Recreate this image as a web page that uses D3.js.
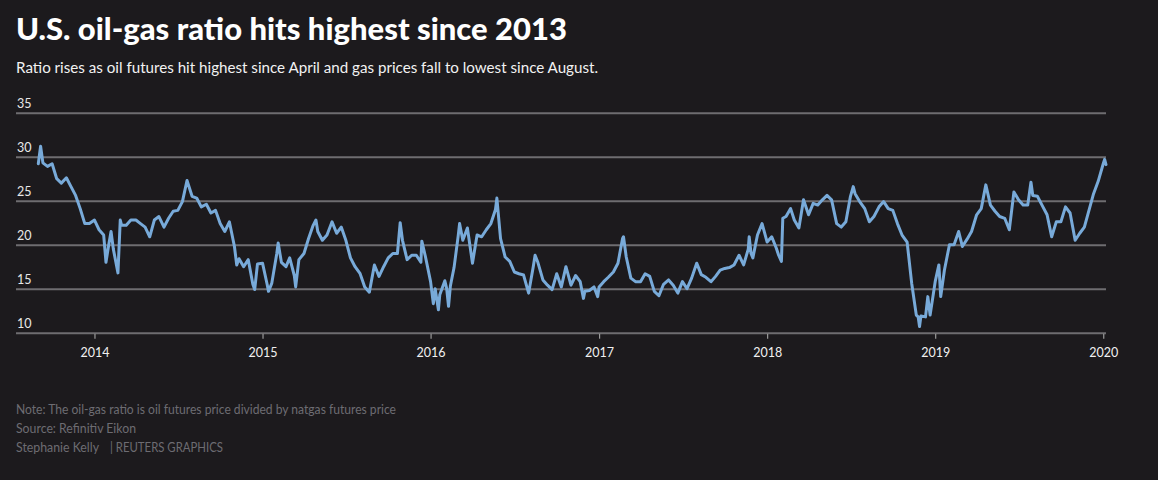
<!DOCTYPE html>
<html>
<head>
<meta charset="utf-8">
<script src="https://cdn.jsdelivr.net/npm/d3@7"></script>
<style>
  html, body { margin: 0; padding: 0; background: #1c1a1d; }
  svg { display: block; }
</style>
</head>
<body>
<svg id="chart" width="1158" height="480"></svg>
<script>
const titleText = "U.S. oil-gas ratio hits highest since 2013";
const subtitleText = "Ratio rises as oil futures hit highest since April and gas prices fall to lowest since August.";
const noteText = "Note: The oil-gas ratio is oil futures price divided by natgas futures price";
const sourceText = "Source: Refinitiv Eikon";
const bylineText = "Stephanie Kelly";
const creditText = "| REUTERS GRAPHICS";

const yTicks = [10, 15, 20, 25, 30, 35];
const xTickYears = ["2014", "2015", "2016", "2017", "2018", "2019", "2020"];

const dates = [
"2013-09-01","2013-09-06","2013-09-11","2013-09-21","2013-10-01","2013-10-11","2013-10-21",
"2013-11-01","2013-11-11","2013-11-21","2013-12-01","2013-12-11","2013-12-21",
"2014-01-01","2014-01-11","2014-01-21","2014-01-26","2014-02-01","2014-02-06","2014-02-11","2014-02-21","2014-02-26",
"2014-03-01","2014-03-11","2014-03-21","2014-04-01","2014-04-11","2014-04-21","2014-05-01","2014-05-11","2014-05-21",
"2014-06-01","2014-06-11","2014-06-21","2014-07-01","2014-07-11","2014-07-21","2014-08-01","2014-08-11","2014-08-21",
"2014-09-01","2014-09-11","2014-09-21","2014-10-01","2014-10-11","2014-10-21","2014-11-01","2014-11-06","2014-11-11","2014-11-21",
"2014-12-01","2014-12-11","2014-12-15","2014-12-21",
"2015-01-01","2015-01-11","2015-01-14","2015-01-21","2015-02-01","2015-02-04","2015-02-11","2015-02-21",
"2015-03-01","2015-03-11","2015-03-14","2015-03-21","2015-04-01","2015-04-11","2015-04-21","2015-04-27",
"2015-05-01","2015-05-11","2015-05-21","2015-06-01","2015-06-11","2015-06-21","2015-07-01","2015-07-11","2015-07-21",
"2015-08-01","2015-08-11","2015-08-21","2015-09-01","2015-09-11","2015-09-21","2015-10-01","2015-10-11","2015-10-21","2015-10-27",
"2015-11-01","2015-11-11","2015-11-21","2015-12-01","2015-12-11","2015-12-13","2015-12-21",
"2016-01-01","2016-01-07","2016-01-11","2016-01-18","2016-01-21","2016-02-01","2016-02-05","2016-02-09","2016-02-13","2016-02-21",
"2016-03-01","2016-03-04","2016-03-11","2016-03-21","2016-04-01","2016-04-11","2016-04-21","2016-05-01","2016-05-11","2016-05-21","2016-05-24",
"2016-06-01","2016-06-11","2016-06-21","2016-07-01","2016-07-11","2016-07-21","2016-08-01","2016-08-11","2016-08-15","2016-08-21",
"2016-09-01","2016-09-11","2016-09-21","2016-10-01","2016-10-11","2016-10-21","2016-11-01","2016-11-11","2016-11-21","2016-11-28",
"2016-12-01","2016-12-11","2016-12-21","2016-12-29",
"2017-01-01","2017-01-11","2017-01-21","2017-02-01","2017-02-11","2017-02-21","2017-02-23","2017-03-01","2017-03-11","2017-03-21",
"2017-04-01","2017-04-11","2017-04-21","2017-05-01","2017-05-11","2017-05-21","2017-06-01","2017-06-11","2017-06-21",
"2017-07-01","2017-07-11","2017-07-21","2017-08-01","2017-08-11","2017-08-21","2017-09-01","2017-09-11","2017-09-21",
"2017-10-01","2017-10-11","2017-10-21","2017-11-01","2017-11-11","2017-11-21","2017-11-23","2017-11-27","2017-12-01","2017-12-11","2017-12-21",
"2018-01-01","2018-01-11","2018-01-21","2018-01-26","2018-02-01","2018-02-04","2018-02-11","2018-02-21",
"2018-03-01","2018-03-11","2018-03-21","2018-04-01","2018-04-11","2018-04-21","2018-05-01","2018-05-11","2018-05-21",
"2018-06-01","2018-06-11","2018-06-21","2018-07-01","2018-07-07","2018-07-11","2018-07-21","2018-08-01","2018-08-11","2018-08-21",
"2018-09-01","2018-09-11","2018-09-21","2018-10-01","2018-10-11","2018-10-21","2018-11-01","2018-11-11","2018-11-21","2018-11-25","2018-11-28",
"2018-12-01","2018-12-11","2018-12-16","2018-12-21",
"2019-01-01","2019-01-09","2019-01-13","2019-01-21","2019-02-01","2019-02-11","2019-02-21","2019-03-01","2019-03-11","2019-03-21",
"2019-04-01","2019-04-11","2019-04-21","2019-05-01","2019-05-11","2019-05-21","2019-06-01","2019-06-11","2019-06-21",
"2019-07-01","2019-07-11","2019-07-21","2019-07-28","2019-08-01","2019-08-11","2019-08-21","2019-09-01","2019-09-11","2019-09-21",
"2019-10-01","2019-10-11","2019-10-21","2019-11-01","2019-11-11","2019-11-21","2019-12-01","2019-12-11","2019-12-21",
"2020-01-01","2020-01-04","2020-01-07"
];

const ratio = [
29.2,31.2,29.3,28.9,29.2,27.5,27.0,
27.6,26.6,25.6,24.1,22.4,22.4,
22.8,21.7,21.1,18.0,20.0,21.5,19.5,16.8,22.8,
22.2,22.2,22.8,22.8,22.4,22.0,20.9,22.8,23.2,
22.0,23.0,23.8,23.9,24.9,27.3,25.5,25.3,24.3,
24.6,23.6,23.9,22.4,21.5,22.6,19.8,17.7,18.4,17.5,
18.3,15.5,14.9,17.8,
17.9,15.5,14.7,15.6,19.0,20.2,18.0,17.5,
18.5,16.5,15.2,18.3,19.0,20.7,22.2,22.8,
21.5,20.5,21.1,22.6,21.3,22.0,20.5,18.5,17.5,
16.7,15.2,14.6,17.7,16.4,17.5,18.5,19.0,19.0,22.5,
20.5,18.3,18.8,18.8,18.0,20.4,18.6,
15.8,13.3,15.0,12.6,14.3,15.9,15.0,13.0,15.3,17.4,
21.0,22.4,20.5,21.9,17.9,21.1,20.9,21.7,22.4,24.0,25.3,
20.7,18.6,18.1,16.9,16.7,16.55,14.5,17.5,18.8,18.0,
16.0,15.4,14.9,16.7,15.2,17.5,15.4,16.5,15.8,13.9,
14.7,14.8,15.2,14.1,
15.2,15.8,16.3,16.9,17.9,20.7,20.9,18.6,16.2,15.8,
15.8,16.7,16.4,14.7,14.2,15.5,16.0,15.4,14.5,
15.8,15.0,16.2,17.9,16.6,16.3,15.8,16.4,17.1,
17.3,17.4,17.7,18.8,17.7,19.5,20.9,19.0,18.5,21.1,22.4,
20.3,20.9,19.6,18.8,18.1,23.0,23.2,24.1,
22.8,21.9,25.1,23.4,24.7,24.5,25.1,25.6,25.1,
22.4,22.0,22.6,25.5,26.6,25.8,24.9,24.1,22.6,23.2,
24.3,24.9,24.1,23.9,22.4,21.1,20.3,15.6,12.0,11.8,10.7,
11.9,11.8,14.1,12.0,
15.8,17.7,14.1,17.1,20.0,20.0,21.5,19.8,20.6,21.5,
23.4,24.1,26.8,24.5,23.8,23.2,23.0,21.7,26.0,
25.1,24.5,24.5,27.1,25.6,25.5,24.5,23.4,20.9,22.6,
22.6,24.3,23.6,20.5,21.3,22.0,23.9,25.8,27.2,
29.2,29.7,29.1
];

const parse = d3.timeParse("%Y-%m-%d");
const data = dates.map((d, i) => ({ date: parse(d), value: ratio[i] }));

const svg = d3.select("#chart");
const W = 1158;
const left = 16, right = 1106;
const plotTop = 112.7, plotBottom = 332.7;

svg.append("rect").attr("width", W).attr("height", 480).attr("fill", "#1c1a1d");

const x = d3.scaleTime()
  .domain(d3.extent(data, d => d.date))
  .range([38.3, 1106]);
const y = d3.scaleLinear().domain([10, 35]).range([plotBottom, plotTop]);

function fit(sel, target) {
  const w = sel.node().getComputedTextLength();
  if (Math.abs(w - target) > 1) {
    sel.attr("textLength", target).attr("lengthAdjust", "spacingAndGlyphs");
  }
}

// Title and subtitle
const title = svg.append("text").attr("x", 16).attr("y", 40)
  .attr("fill", "#ffffff").attr("font-family", "Lato, 'Open Sans', sans-serif")
  .attr("font-weight", 900).attr("font-size", 30).text(titleText);
fit(title, 551);
const sub = svg.append("text").attr("x", 16).attr("y", 73)
  .attr("fill", "#f2f2f2").attr("font-family", "Lato, 'Open Sans', sans-serif")
  .attr("font-size", 15.5).text(subtitleText);
fit(sub, 582);

// Gridlines
const gy = svg.append("g").attr("transform", `translate(${right},0)`);
gy.call(d3.axisRight(y).tickValues(yTicks).tickSize(-(right - left)).tickFormat(""));
gy.select(".domain").remove();
gy.selectAll(".tick line").attr("stroke", "#6e6d70").attr("stroke-width", 2);

// Y labels above gridlines
const gyl = svg.append("g");
gyl.selectAll("text").data(yTicks).join("text")
  .attr("x", 17).attr("y", d => y(d) - 4.5)
  .attr("fill", "#e8e8e8").attr("font-family", "Lato, 'Open Sans', sans-serif")
  .attr("font-size", 12.5).text(d => d);

// X axis
const xTickDates = xTickYears.map(s => d3.timeParse("%Y")(s));
const gx = svg.append("g").attr("transform", `translate(0,${plotBottom + 1})`);
gx.call(d3.axisBottom(x).tickValues(xTickDates).tickSize(5).tickPadding(9).tickFormat(d3.timeFormat("%Y")));
gx.select(".domain").remove();
gx.selectAll(".tick line").attr("stroke", "#9a9a9a").attr("stroke-width", 1.2);
gx.selectAll(".tick text").attr("fill", "#f0f0f0")
  .attr("font-family", "Lato, 'Open Sans', sans-serif").attr("font-size", 12.5);

// Line
const line = d3.line().x(d => x(d.date)).y(d => y(d.value)).curve(d3.curveLinear);
svg.append("path").datum(data)
  .attr("fill", "none").attr("stroke", "#78aad9").attr("stroke-width", 3)
  .attr("stroke-linejoin", "round").attr("stroke-linecap", "round")
  .attr("d", line);

// Footer
const footFont = "Lato, 'Open Sans', sans-serif";
const note = svg.append("text").attr("x", 16).attr("y", 414).attr("fill", "#6d6c72")
  .attr("font-family", footFont).attr("font-size", 12.5).text(noteText);
fit(note, 380);
const src = svg.append("text").attr("x", 16).attr("y", 433).attr("fill", "#6d6c72")
  .attr("font-family", footFont).attr("font-size", 12.5).text(sourceText);
fit(src, 120);
const by = svg.append("text").attr("x", 16).attr("y", 452).attr("fill", "#6d6c72")
  .attr("font-family", footFont).attr("font-size", 12.5).text(bylineText);
fit(by, 83);
const cr = svg.append("text").attr("x", 110).attr("y", 452).attr("fill", "#6d6c72")
  .attr("font-family", footFont).attr("font-size", 12.5).text(creditText);
fit(cr, 113);
</script>
</body>
</html>
